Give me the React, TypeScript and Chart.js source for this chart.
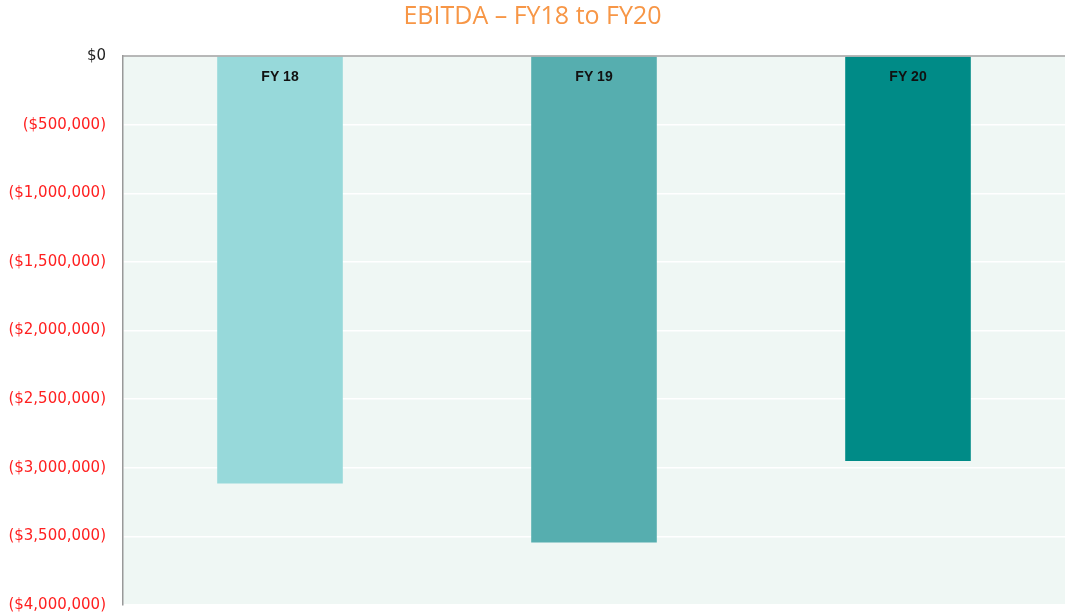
import React, { useEffect, useRef } from "react";
import { Chart, registerables } from "chart.js";

Chart.register(...registerables);

const categories = ["FY 18", "FY 19", "FY 20"];
const ebitdaValues = [-3115000, -3545000, -2950000];
const barColors = ["#97D9DA", "#56AEAF", "#008B87"];
const yTickValues = [0, -500000, -1000000, -1500000, -2000000, -2500000, -3000000, -3500000, -4000000];
const chartTitle = "EBITDA \u2013 FY18 to FY20";

function fmt(v: number): string {
  if (v === 0) return "$0";
  const s = "$" + Math.abs(v).toLocaleString("en-US");
  return v < 0 ? "(" + s + ")" : s;
}

const bgPlugin = {
  id: "plotBg",
  beforeDraw(chart: any) {
    const { ctx, chartArea } = chart;
    ctx.save();
    ctx.fillStyle = "#EFF7F4";
    ctx.fillRect(chartArea.left, chartArea.top, chartArea.right - chartArea.left, chartArea.bottom - chartArea.top);
    ctx.restore();
  },
  afterDraw(chart: any) {
    const { ctx, chartArea, scales } = chart;
    ctx.save();
    ctx.strokeStyle = "#A0A0A0";
    ctx.lineWidth = 1.5;
    ctx.beginPath();
    ctx.moveTo(chartArea.left, chartArea.top);
    ctx.lineTo(chartArea.right, chartArea.top);
    ctx.stroke();
    ctx.fillStyle = "#111111";
    ctx.font = "bold 14px 'Liberation Sans', Arial, sans-serif";
    ctx.textAlign = "center";
    ctx.textBaseline = "middle";
    categories.forEach((c, i) => {
      const x = scales.x.getPixelForValue(i);
      ctx.fillText(c, x, chartArea.top + 21);
    });
    ctx.restore();
  },
};

export default function App() {
  const ref = useRef<HTMLCanvasElement | null>(null);
  useEffect(() => {
    if (!ref.current) return;
    const chart = new Chart(ref.current, {
      type: "bar",
      data: {
        labels: categories,
        datasets: [
          {
            data: ebitdaValues,
            backgroundColor: barColors,
            barPercentage: 0.4,
            categoryPercentage: 1,
          },
        ],
      },
      options: {
        animation: false,
        responsive: false,
        maintainAspectRatio: false,
        layout: { padding: { top: 0, right: 0, bottom: 11, left: 0 } },
        plugins: {
          legend: { display: false },
          tooltip: { enabled: false },
          title: {
            display: true,
            text: chartTitle,
            color: "#F79646",
            font: { family: "'Open Sans', 'Noto Sans', sans-serif", size: 25, weight: "normal", lineHeight: 1.2 },
            padding: { top: 2, bottom: 24 },
          },
        },
        scales: {
          x: {
            position: "top",
            grid: { display: false, drawTicks: false },
            border: { display: false },
            ticks: { display: false },
          },
          y: {
            min: -4000000,
            max: 0,
            afterBuildTicks(scale: any) {
              scale.ticks = yTickValues.map((v) => ({ value: v }));
            },
            afterFit(scale: any) {
              scale.width = 123;
            },
            grid: { color: "#FFFFFF", lineWidth: 1.5, drawTicks: true, tickLength: 17, tickColor: "rgba(0,0,0,0)" },
            border: { display: true, color: "#999999", width: 1.5 },
            ticks: {
              padding: 0,
              font: { family: "'DejaVu Sans', sans-serif", size: 15 },
              color: (ctx: any) => (ctx.tick && ctx.tick.value === 0 ? "#222222" : "#FF2020"),
              callback: (v: any) => fmt(Number(v)),
            },
          },
        },
      },
      plugins: [bgPlugin],
    });
    return () => chart.destroy();
  }, []);
  return (
    <div style={{ position: "fixed", left: 0, top: 0, width: 1065, height: 616, background: "#FFFFFF" }}>
      <canvas ref={ref} width={1065} height={616} style={{ display: "block" }} />
    </div>
  );
}
